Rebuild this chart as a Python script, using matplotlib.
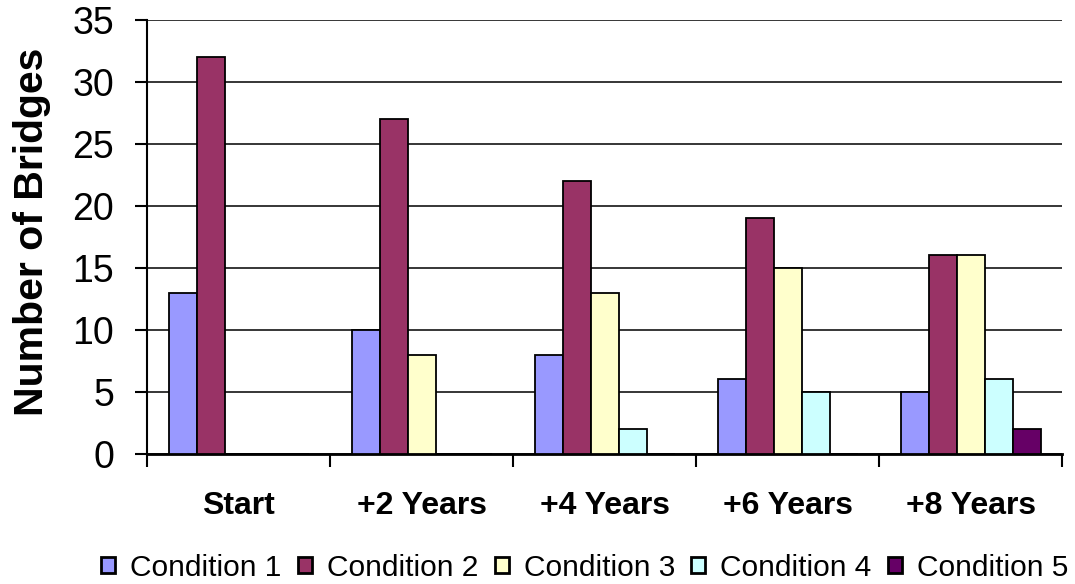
import numpy as np
import matplotlib.pyplot as plt

plt.rcParams['font.family'] = ['Liberation Sans', 'DejaVu Sans']

periods = ["Start", "+2 Years", "+4 Years", "+6 Years", "+8 Years"]
conditions = ["Condition 1", "Condition 2", "Condition 3", "Condition 4", "Condition 5"]
cond1 = [13, 10, 8, 6, 5]
cond2 = [32, 27, 22, 19, 16]
cond3 = [0, 8, 13, 15, 16]
cond4 = [0, 0, 2, 5, 6]
cond5 = [0, 0, 0, 0, 2]
colors = ["#9999FF", "#993366", "#FFFFCC", "#CCFFFF", "#660066"]

series = [cond1, cond2, cond3, cond4, cond5]

fig = plt.figure(figsize=(10.75, 5.84), dpi=100)
ax = fig.add_axes([0.137, 0.223, 0.851, 0.743])

x = np.arange(len(periods))
w = 0.153
for i, (vals, name, c) in enumerate(zip(series, conditions, colors)):
    ax.bar(x + (i - 2) * w, vals, w, color=c, edgecolor="black", linewidth=1.3,
           label=name, zorder=3)

ax.set_xlim(-0.5, len(periods) - 0.5)
ax.set_ylim(0, 35)
ax.set_yticks(range(0, 36, 5))
ax.yaxis.grid(True, color="black", linewidth=1.1, zorder=0)
ax.set_axisbelow(True)

ax.set_xticks(x)
ax.set_xticklabels(periods, fontsize=23, fontweight="bold")
ax.set_xticks(np.arange(len(periods) + 1) - 0.5, minor=True)
ax.tick_params(axis="x", which="major", length=0, pad=27)
ax.tick_params(axis="x", which="minor", length=9, width=1.5, direction="out")
ax.tick_params(axis="y", labelsize=27, length=9, width=1.5, direction="out", pad=15)

for s in ["top", "right"]:
    ax.spines[s].set_visible(False)
ax.spines["left"].set_linewidth(1.5)
ax.spines["bottom"].set_linewidth(2)

ax.set_ylabel("Number of Bridges", fontsize=29.5, fontweight="bold")
ax.yaxis.set_label_coords(-0.105, 0.512)

leg = fig.legend(loc="center", bbox_to_anchor=(0.544, 0.028), ncol=5, frameon=False,
                 fontsize=21.5, handlelength=0.47, handleheight=0.47, handletextpad=0.5,
                 columnspacing=0.55)
for h in leg.legend_handles:
    h.set_linewidth(2)

fig.savefig("out.png", dpi=100)
